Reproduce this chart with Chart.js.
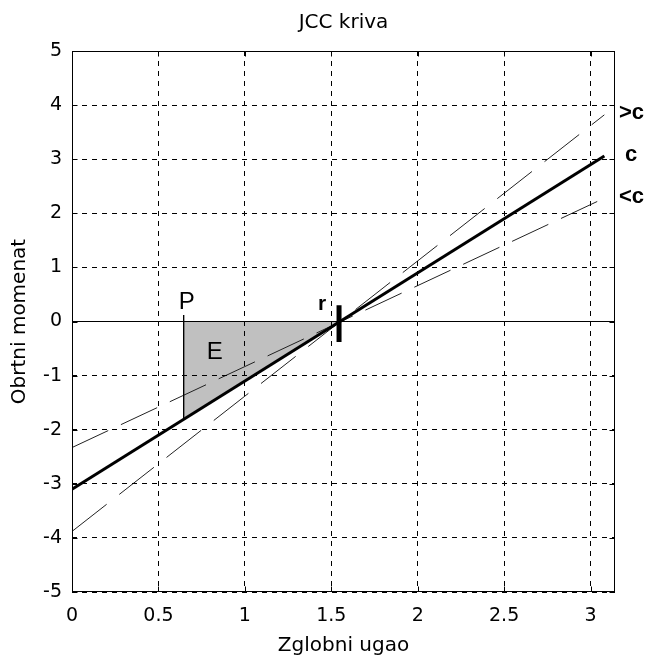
<!DOCTYPE html>
<html>
<head>
<meta charset="utf-8">
<title>JCC kriva</title>
<script src="https://cdn.jsdelivr.net/npm/chart.js@4.4.0/dist/chart.umd.min.js"></script>
<style>
html,body{margin:0;padding:0;background:#fff;}
#wrap{width:652px;height:664px;}
</style>
</head>
<body>
<div id="wrap"><canvas id="jcc" width="652" height="664"></canvas></div>
<script>
/* DATA: zglobni ugao (rad) / obrtni momenat */
const angleRange = [0, 3.08];          // krajevi pravih c, >c, <c
const torqueC = [-3.1, 3.06];          // c
const torqueStiff = [-3.88, 3.82];     // >c
const torqueSoft = [-2.33, 2.28];      // <c
const pAngle = 0.646;                  // tacka P
const pTorque = [0.12, -1.82];
const eAngle = [0.646, 1.55];          // povrsina E
const eTorque = [-1.82, 0];
const rAngle = 1.545;                  // oznaka r
const rTorque = [0.3, -0.38];
const xMax = Math.PI;
const xTicks = [0, 0.5, 1, 1.5, 2, 2.5, 3];
const yTicks = [-5, -4, -3, -2, -1, 0, 1, 2, 3, 4, 5];

const pts = (xs, ys) => xs.map((x, i) => ({x: x, y: ys[i]}));
const FONT = '"DejaVu Sans", sans-serif';

function line(data, width, color, dash){
    return {
        data: data,
        borderColor: color,
        borderWidth: width,
        borderDash: dash || [],
        pointRadius: 0,
        fill: false,
        tension: 0
    };
}

/* frame, inward ticks and text labels */
const jccDecor = {
    id: 'jccDecor',
    afterDraw(chart){
        const {ctx, chartArea: a, scales: {x, y}} = chart;
        const seg = (x1, y1, x2, y2) => { ctx.beginPath(); ctx.moveTo(x1, y1); ctx.lineTo(x2, y2); ctx.stroke(); };
        ctx.save();
        ctx.strokeStyle = '#000';
        ctx.lineWidth = 1;
        const L = Math.round(a.left) + 0.5, R = Math.round(a.right) - 0.5;
        const T = Math.round(a.top) + 0.5, B = Math.round(a.bottom) - 0.5;
        ctx.strokeRect(L, T, R - L, B - T);
        xTicks.forEach(v => {
            const px = Math.round(x.getPixelForValue(v)) + 0.5;
            seg(px, B, px, B - 5);
            seg(px, T, px, T + 5);
        });
        yTicks.forEach(v => {
            const py = Math.round(y.getPixelForValue(v)) + 0.5;
            seg(L, py, L + 5, py);
            seg(R, py, R - 5, py);
        });

        ctx.fillStyle = '#000';
        ctx.textAlign = 'center';
        ctx.textBaseline = 'alphabetic';
        const px = x.getPixelForValue(pAngle);
        const y0 = y.getPixelForValue(0);
        ctx.font = '24px "Liberation Sans", sans-serif';
        ctx.fillText('P', px + 3, y.getPixelForValue(pTorque[0]) - 6);
        ctx.fillText('E', px + 31, y0 + 37);
        ctx.font = 'bold 21px "Liberation Sans", sans-serif';
        ctx.fillText('r', x.getPixelForValue(rAngle) - 17, y0 - 12);

        ctx.textAlign = 'left';
        ctx.textBaseline = 'middle';
        ctx.font = 'bold 22px "Liberation Sans", sans-serif';
        ctx.fillText('>c', a.right + 4, y.getPixelForValue(torqueStiff[1]) - 2);
        ctx.fillText('c', a.right + 10, y.getPixelForValue(torqueC[1]) - 1);
        ctx.fillText('<c', a.right + 4, y.getPixelForValue(torqueSoft[1]) - 1);
        ctx.restore();
    }
};

new Chart(document.getElementById('jcc'), {
    type: 'line',
    data: {
        datasets: [
            line(pts(angleRange, torqueC), 3, '#000'),
            line(pts([rAngle, rAngle], rTorque), 5, '#000'),
            line(pts([0, xMax], [0, 0]), 1, '#000'),
            line(pts([pAngle, pAngle], pTorque), 1, '#000'),
            line(pts(angleRange, torqueStiff), 1, '#222', [44, 16]),
            line(pts(angleRange, torqueSoft), 1, '#222', [40, 14]),
            {
                data: pts(eAngle, eTorque),
                borderWidth: 0,
                pointRadius: 0,
                backgroundColor: '#c0c0c0',
                fill: 'origin',
                tension: 0
            }
        ]
    },
    options: {
        responsive: false,
        animation: false,
        events: [],
        layout: {padding: {left: 0, right: 37, top: 0, bottom: 0}},
        plugins: {
            legend: {display: false},
            tooltip: {enabled: false},
            title: {
                display: true,
                fullSize: false,
                text: 'JCC kriva',
                color: '#000',
                font: {family: FONT, size: 20, weight: 'normal'},
                padding: {top: 11, bottom: 16}
            }
        },
        scales: {
            x: {
                type: 'linear',
                min: 0,
                max: xMax,
                afterBuildTicks: s => { s.ticks = xTicks.map(v => ({value: v})); },
                afterFit: s => { s.height = 72; },
                grid: {color: '#000', lineWidth: 1, drawTicks: false, z: 1},
                border: {display: false, dash: [5, 5]},
                ticks: {color: '#000', padding: 13, font: {family: FONT, size: 19},
                        callback: v => String(v)},
                title: {display: true, text: 'Zglobni ugao', color: '#000',
                        font: {family: FONT, size: 20}, padding: {top: 0, bottom: 6}}
            },
            y: {
                min: -5,
                max: 5,
                afterBuildTicks: s => { s.ticks = yTicks.map(v => ({value: v})); },
                afterFit: s => { s.width = 72; },
                grid: {color: '#000', lineWidth: 1, drawTicks: false, z: 1},
                border: {display: false, dash: [5, 5]},
                ticks: {color: '#000', padding: 10, font: {family: FONT, size: 19},
                        callback: v => String(v)},
                title: {display: true, text: 'Obrtni momenat', color: '#000',
                        font: {family: FONT, size: 20}, padding: {top: 8, bottom: 0}}
            }
        }
    },
    plugins: [jccDecor]
});
</script>
</body>
</html>
